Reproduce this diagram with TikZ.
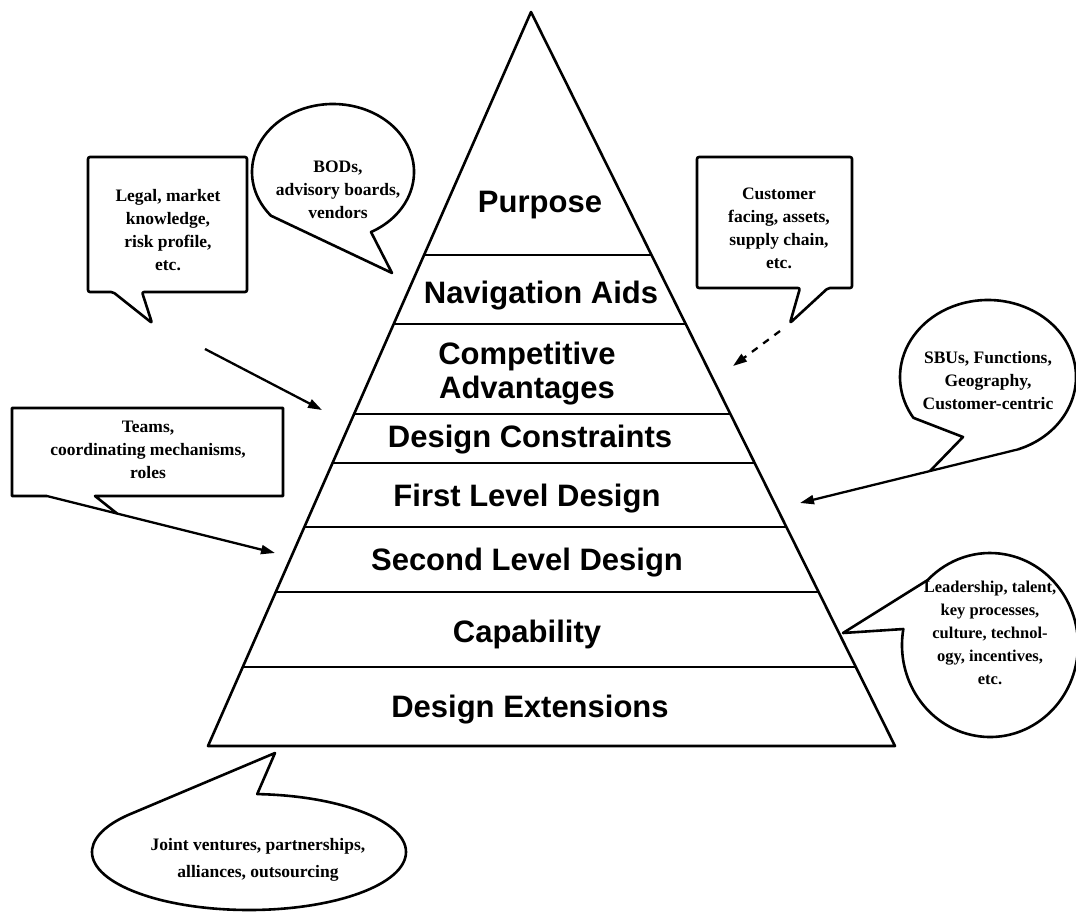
\documentclass[tikz,border=0pt]{standalone}
\usepackage{fontspec}
\setmainfont{Liberation Serif}
\newfontfamily\labfont{Liberation Sans}
\usetikzlibrary{arrows.meta,calc}
\begin{document}
\begin{tikzpicture}[x=1pt,y=-1pt,
  outl/.style={line width=2.6pt,line join=round},
  sep/.style={line width=2.3pt},
  callout/.style={draw,line width=2.6pt,fill=white,line join=round},
  arr/.style={line width=2.3pt,-{Triangle[length=14pt,width=9pt]}},
  lab/.style={font=\labfont\bfseries\fontsize{31}{34}\selectfont,inner sep=0pt,align=center},
  ctext/.style={font=\bfseries\fontsize{17.5}{23}\selectfont,align=center,inner sep=0pt}]
\useasboundingbox (0,0) rectangle (1076,912);

% pyramid
\coordinate (apex) at (531,12);
\coordinate (bl) at (208,746);
\coordinate (br) at (895,746);
\begin{scope}
  \clip (apex) -- (br) -- (bl) -- cycle;
  \foreach \yy in {255,324,414,463,527,592,667}
    \draw[sep] (150,\yy) -- (950,\yy);
\end{scope}
\draw[outl] (apex) -- (br) -- (bl) -- cycle;

\node[lab,anchor=base] (purpose) at (540,213) {Purpose};
\node[lab,anchor=base] (nav) at (541,303) {Navigation Aids};
\node[lab] (comp) at (527,374) {Competitive\\Advantages};
\node[lab,anchor=base] (dcons) at (530,447) {Design Constraints};
\node[lab,anchor=base] (first) at (527,506) {First Level Design};
\node[lab,anchor=base] (second) at (527,570) {Second Level Design};
\node[lab,anchor=base] (cap) at (527,642) {Capability};
\node[lab,anchor=base] (ext) at (530,717) {Design Extensions};

% top-left box callout
\draw[callout,rounded corners=2pt] (88,157) -- (247,157) -- (247,292) -- (142,292) -- (152,323) -- (113,292) -- (88,292) -- cycle;
\node[ctext] (legal) at (168,230) {Legal, market\\knowledge,\\risk profile,\\etc.};
\coordinate (a1s) at (205,349);
\coordinate (a1t) at (322,410);
\draw[arr] (a1s) -- (a1t);

% BODs bubble
\draw[callout] (333,172) ++(62:81 and 68) arc[start angle=62,end angle=-220,x radius=81,y radius=68] -- (392,273) -- cycle;
\node[ctext] (bods) at (338,190) {BODs,\\advisory boards,\\vendors};

% top-right box callout
\draw[callout,rounded corners=2pt] (697,157) -- (852,157) -- (852,288) -- (828,288) -- (790,323) -- (800,288) -- (697,288) -- cycle;
\node[ctext] (cust) at (779,228) {Customer\\facing, assets,\\supply chain,\\etc.};
\coordinate (a3s) at (780,331);
\coordinate (a3t) at (733,366);
\draw[arr,dash pattern=on 7pt off 7pt] (a3s) -- (a3t);

% SBU bubble with long pointer
\coordinate (sbuS) at ($(988,377)+(70:88 and 77)$);
\coordinate (sbuT) at (800,503);
\coordinate (sbuJ) at ($(sbuS)!0.404!(sbuT)$);
\draw[callout] (sbuS) arc[start angle=70,end angle=-212,x radius=88,y radius=77] -- (963,437) -- (sbuJ);
\draw[arr] (sbuS) -- (sbuT);
\node[ctext] (sbu) at (988,381) {SBUs, Functions,\\Geography,\\Customer-centric};

% Teams box with long pointer
\coordinate (tS) at (47,496);
\coordinate (tT) at (275,553);
\coordinate (tJ) at ($(tS)!0.307!(tT)$);
\draw[callout] (tS) -- (12,496) -- (12,408) -- (283,408) -- (283,496) -- (95,496) -- (tJ);
\draw[arr] (tS) -- (tT);
\node[ctext] (teams) at (148,450) {Teams,\\coordinating mechanisms,\\roles};

% Leadership bubble
\draw[callout] (990,645) ++(-170:88 and 92) arc[start angle=-170,end angle=-495,x radius=88,y radius=92] -- (843,633) -- cycle;
\node[ctext,font=\bfseries\fontsize{16.5}{23}\selectfont] (lead) at (990,633) {Leadership, talent,\\key processes,\\culture, technol-\\ogy, incentives,\\etc.};

% Joint ventures bubble
\draw[callout] (249,852) ++(-87:157 and 58) arc[start angle=-87,end angle=223,x radius=157,y radius=58] -- (275,753) -- cycle;
\node[ctext,font=\bfseries\fontsize{17.5}{27}\selectfont] (joint) at (258,860) {Joint ventures, partnerships,\\alliances, outsourcing};
\end{tikzpicture}
\end{document}
